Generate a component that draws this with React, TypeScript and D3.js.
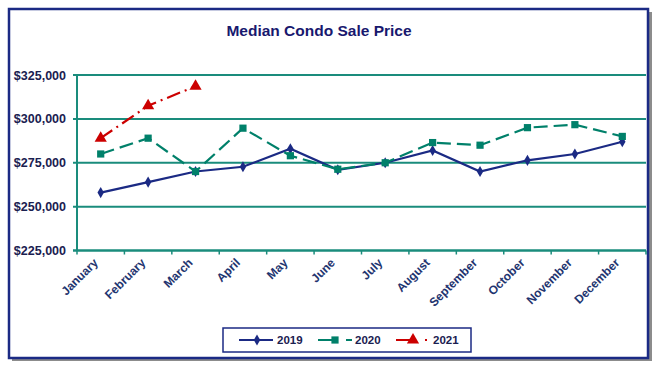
import React from 'react';
import * as d3 from 'd3';

const months = ['January', 'February', 'March', 'April', 'May', 'June', 'July', 'August', 'September', 'October', 'November', 'December'];
const sales2019 = [258000, 264000, 270000, 272700, 283000, 271000, 275000, 282000, 270000, 276400, 280000, 287000];
const sales2020 = [280000, 289000, 270000, 294700, 279000, 271300, 275000, 286500, 285000, 295000, 296700, 290000];
const sales2021 = [289000, 307500, 318600];
const yTicks = [225000, 250000, 275000, 300000, 325000];

const NAVY = '#1b2a84';
const GREEN = '#00806a';
const RED = '#cc0000';
const GRID = '#1a8c7c';

const App: React.FC = () => {
  const W = 667, H = 369;
  const plot = { left: 77, right: 646, top: 75, bottom: 250.5 };

  const x = d3.scaleBand<string>().domain(months).range([plot.left, plot.right]);
  const y = d3.scaleLinear().domain([225000, 325000]).range([plot.bottom, plot.top]);
  const cx = (m: string) => (x(m) as number) + x.bandwidth() / 2;

  const line = d3.line<number>()
    .x((_, i) => cx(months[i]))
    .y(d => y(d));

  const fmt = (v: number) => '$' + d3.format(',')(v);
  const diamond = d3.symbol(d3.symbolDiamond, 36)();
  const square = d3.symbol(d3.symbolSquare, 52)();
  const triangle = d3.symbol(d3.symbolTriangle, 64)();

  return (
    <svg width={W} height={H} style={{ position: 'absolute', left: 0, top: 0, fontFamily: 'Arial, "Liberation Sans", sans-serif' }}>
      <rect x={0} y={0} width={W} height={H} fill="#fff" />
      {/* frame with shadow */}
      <rect x={12} y={12} width={640} height={349} fill="#8c8c8c" />
      <rect x={9} y={9} width={639} height={349} fill="#fff" stroke={NAVY} strokeWidth={2.5} />

      <text x={319} y={36} textAnchor="middle" fontSize={15.5} fontWeight="bold" fill="#18186e">Median Condo Sale Price</text>

      {/* gridlines */}
      {yTicks.map(t => (
        <g key={t}>
          <line x1={plot.left - 4} x2={plot.right} y1={y(t)} y2={y(t)} stroke={GRID} strokeWidth={t === 225000 ? 2.5 : 2} />
          <text x={66} y={y(t) + 4.5} textAnchor="end" fontSize={12.5} fontWeight="bold" fill="#1a2050">{fmt(t)}</text>
        </g>
      ))}
      <line x1={plot.left} x2={plot.left} y1={plot.top} y2={plot.bottom} stroke={GRID} strokeWidth={2} />
      {months.map(m => (
        <line key={'t' + m} x1={(x(m) as number)} x2={(x(m) as number)} y1={plot.bottom} y2={plot.bottom + 4} stroke={GRID} strokeWidth={1.5} />
      ))}
      <line x1={plot.right} x2={plot.right} y1={plot.bottom} y2={plot.bottom + 4} stroke={GRID} strokeWidth={1.5} />

      {/* x labels */}
      {months.map(m => (
        <text key={'l' + m} transform={`translate(${cx(m) - 2},${plot.bottom + 13}) rotate(-45)`} textAnchor="end" fontSize={12} fontWeight="bold" fill="#1f3570">{m}</text>
      ))}

      {/* series */}
      <path d={line(sales2019) as string} fill="none" stroke={NAVY} strokeWidth={2.2} />
      {sales2019.map((v, i) => (
        <path key={'a' + i} d={diamond as string} transform={`translate(${cx(months[i])},${y(v)})`} fill={NAVY} />
      ))}
      <path d={line(sales2020) as string} fill="none" stroke={GREEN} strokeWidth={2.2} strokeDasharray="14,6" />
      {sales2020.map((v, i) => (
        <path key={'b' + i} d={square as string} transform={`translate(${cx(months[i])},${y(v)})`} fill={GREEN} />
      ))}
      <path d={line(sales2021) as string} fill="none" stroke={RED} strokeWidth={2.2} strokeDasharray="14,5,2,5" />
      {sales2021.map((v, i) => (
        <path key={'c' + i} d={triangle as string} transform={`translate(${cx(months[i])},${y(v)})`} fill={RED} />
      ))}

      {/* legend */}
      <rect x={223} y={328} width={248} height={24} fill="#fff" stroke={NAVY} strokeWidth={1.5} />
      <line x1={239} x2={273} y1={340} y2={340} stroke={NAVY} strokeWidth={2} />
      <path d={diamond as string} transform="translate(257,340)" fill={NAVY} />
      <text x={277} y={344} fontSize={11.5} fontWeight="bold" fill="#1a2050">2019</text>
      <line x1={318} x2={337} y1={340} y2={340} stroke={GREEN} strokeWidth={2} />
      <line x1={346} x2={352} y1={340} y2={340} stroke={GREEN} strokeWidth={2} />
      <path d={square as string} transform="translate(335,340)" fill={GREEN} />
      <text x={355} y={344} fontSize={11.5} fontWeight="bold" fill="#1a2050">2020</text>
      <line x1={396} x2={414} y1={340} y2={340} stroke={RED} strokeWidth={2} />
      <line x1={425} x2={427} y1={340} y2={340} stroke={RED} strokeWidth={2} />
      <path d={triangle as string} transform="translate(413,340)" fill={RED} />
      <text x={433} y={344} fontSize={11.5} fontWeight="bold" fill="#1a2050">2021</text>
    </svg>
  );
};

export default App;
